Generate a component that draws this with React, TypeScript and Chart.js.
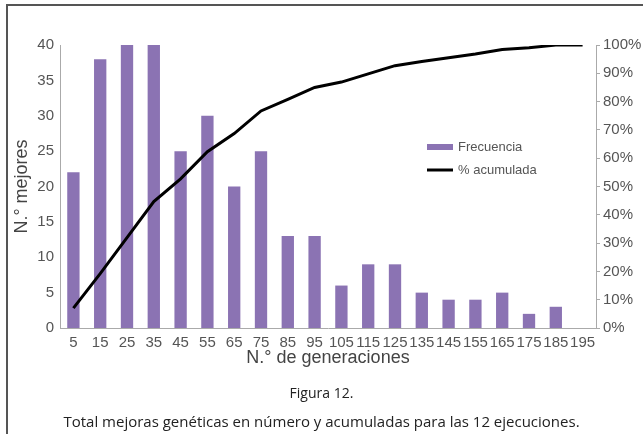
import React, { useEffect, useRef } from "react";
import { Chart, registerables } from "chart.js";

Chart.register(...registerables);

const categories = ["5", "15", "25", "35", "45", "55", "65", "75", "85", "95", "105", "115", "125", "135", "145", "155", "165", "175", "185", "195"];
const frecuencia = [22, 38, 40, 40, 25, 30, 20, 25, 13, 13, 6, 9, 9, 5, 4, 4, 5, 2, 3, 0];
const acumulada = [7.0, 19.2, 31.9, 44.7, 52.7, 62.3, 68.7, 76.7, 80.8, 85.0, 86.9, 89.8, 92.7, 94.2, 95.5, 96.8, 98.4, 99.0, 100, 100];
const leftTitle = "N.° mejores";
const bottomTitle = "N.° de generaciones";
const figureLabel = "Figura 12.";
const caption = "Total mejoras genéticas en número y acumuladas para las 12 ejecuciones.";

const BAR_COLOR = "#8b73b3";
const FONT = "'Liberation Sans', Arial, Helvetica, sans-serif";

const legendPlugin = {
  id: "insideLegend",
  afterDraw(chart: any) {
    const ctx = chart.ctx;
    const x = 427;
    const y1 = 147;
    const y2 = 170;
    ctx.save();
    const ds = chart.data.datasets;
    ctx.fillStyle = BAR_COLOR;
    ctx.fillRect(x, y1 - 3, 26, 6);
    ctx.strokeStyle = "#000";
    ctx.lineWidth = 3;
    ctx.beginPath();
    ctx.moveTo(x, y2);
    ctx.lineTo(x + 26, y2);
    ctx.stroke();
    ctx.fillStyle = "#555";
    ctx.font = `13px ${FONT}`;
    ctx.textBaseline = "middle";
    ctx.fillText(ds[0].label, x + 31, y1);
    ctx.fillText(ds[1].label, x + 31, y2);
    ctx.restore();
  },
};

function ChartCanvas() {
  const ref = useRef<HTMLCanvasElement>(null);
  useEffect(() => {
    if (!ref.current) return;
    const chart = new Chart(ref.current, {
      type: "bar",
      data: {
        labels: categories,
        datasets: [
          {
            type: "bar",
            label: "Frecuencia",
            data: frecuencia,
            backgroundColor: BAR_COLOR,
            barPercentage: 0.46,
            categoryPercentage: 1,
            yAxisID: "y",
            order: 1,
          },
          {
            type: "line",
            label: "% acumulada",
            data: acumulada,
            borderColor: "#000",
            borderWidth: 3,
            pointRadius: 0,
            tension: 0,
            fill: false,
            yAxisID: "y1",
            order: 0,
          } as any,
        ],
      },
      options: {
        responsive: false,
        animation: false,
        layout: { padding: { top: 45, left: 0, right: 0, bottom: 0 } },
        plugins: { legend: { display: false }, tooltip: { enabled: false } },
        scales: {
          x: {
            grid: { display: false, drawTicks: false },
            border: { display: true, color: "#aaa", width: 1 },
            ticks: { color: "#555", font: { family: FONT, size: 15 }, autoSkip: false, maxRotation: 0, minRotation: 0, padding: 6 },
            title: { display: true, text: bottomTitle, color: "#444", font: { family: FONT, size: 18, lineHeight: 1.2 }, padding: { top: 0, bottom: 6 } },
            afterFit(scale: any) { scale.height = 47; },
          },
          y: {
            position: "left",
            min: 0,
            max: 40,
            ticks: { stepSize: 5, color: "#555", font: { family: FONT, size: 15 }, padding: 6 },
            grid: { display: false, drawTicks: false },
            border: { display: true, color: "#aaa", width: 1 },
            title: { display: true, text: leftTitle, color: "#444", font: { family: FONT, size: 18, lineHeight: 1.2 }, padding: { top: 11, bottom: 0 } },
            afterFit(scale: any) { scale.width = 60; },
          },
          y1: {
            position: "right",
            min: 0,
            max: 100,
            ticks: { stepSize: 10, color: "#555", font: { family: FONT, size: 15 }, padding: 3, callback: (v: any) => v + "%" },
            grid: { drawOnChartArea: false, drawTicks: true, tickLength: 4, color: "#aaa" },
            border: { display: true, color: "#aaa", width: 1 },
            afterFit(scale: any) { scale.width = 47; },
          },
        },
      } as any,
      plugins: [legendPlugin],
    });
    return () => chart.destroy();
  }, []);
  return <canvas ref={ref} width={643} height={375} style={{ position: "absolute", left: 0, top: 0, width: 643, height: 375 }} />;
}

export default function App() {
  const capStyle: React.CSSProperties = {
    position: "absolute",
    left: 0,
    width: 643,
    textAlign: "center",
    fontFamily: "'Open Sans', 'Noto Sans', sans-serif",
    lineHeight: "20px",
    color: "#222",
  };
  return (
    <div style={{ position: "fixed", left: 0, top: 0, width: 643, height: 434, background: "#fff", overflow: "hidden" }}>
      <ChartCanvas />
      <div style={{ position: "absolute", left: 6, top: 4, width: 637, height: 2, background: "#555" }} />
      <div style={{ position: "absolute", left: 6, top: 4, width: 2, height: 430, background: "#555" }} />
      <div style={{ ...capStyle, top: 383, fontSize: 14 }}>{figureLabel}</div>
      <div style={{ ...capStyle, top: 411, fontSize: 15 }}>{caption}</div>
    </div>
  );
}
